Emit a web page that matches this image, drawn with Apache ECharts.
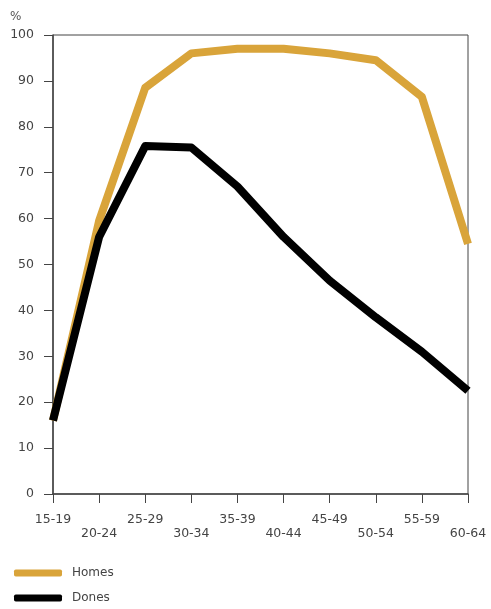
<!DOCTYPE html>
<html>
<head>
<meta charset="utf-8">
<script src="https://cdn.jsdelivr.net/npm/echarts@6/dist/echarts.min.js"></script>
<style>html,body{margin:0;padding:0;background:#fff;}#c{width:491px;height:609px;}</style>
</head>
<body>
<div id="c"></div>
<script>
const categories = ['15-19','20-24','25-29','30-34','35-39','40-44','45-49','50-54','55-59','60-64'];
const homes = [16, 59.5, 88.5, 96, 97, 97, 96, 94.5, 86.5, 54.5];
const dones = [16, 56, 75.8, 75.5, 67, 56, 46.5, 38.5, 31, 22.5];
const yTicks = [0,10,20,30,40,50,60,70,80,90,100];

const chart = echarts.init(document.getElementById('c'), null, {renderer:'canvas'});
const font = '"DejaVu Sans", sans-serif';
chart.setOption({
  backgroundColor:'#fff',
  animation:false,
  grid:{left:53,right:23,top:35,bottom:115,show:true,borderColor:'#444',borderWidth:1,backgroundColor:'transparent'},
  graphic:[{type:'text',left:10,top:11,style:{text:'%',fill:'#555',font:'12px '+font}}],
  legend:{
    orient:'vertical',left:14,top:567,padding:0,itemWidth:48,itemHeight:7,itemGap:13,icon:'roundRect',
    textStyle:{color:'#444',fontFamily:font,fontSize:12,lineHeight:12,padding:[0,0,0,5]},
    data:['Homes','Dones']
  },
  xAxis:{
    type:'category',data:categories,boundaryGap:false,
    axisLine:{lineStyle:{color:'#444',width:1.5}},
    axisTick:{show:true,length:9,alignWithLabel:true,lineStyle:{color:'#444'}},
    axisLabel:{interval:0,color:'#444',fontFamily:font,fontSize:12.5,margin:19,lineHeight:14,
      formatter:(v,i)=> (i%2===1?'\n':'')+v}
  },
  yAxis:{
    type:'value',min:0,max:100,interval:10,
    axisLine:{show:true,lineStyle:{color:'#444',width:1.5}},
    axisTick:{show:true,length:9,lineStyle:{color:'#444'}},
    splitLine:{show:false},
    axisLabel:{color:'#444',fontFamily:font,fontSize:12.5,margin:19,
      formatter:v=> yTicks.includes(v)? String(v):''}
  },
  series:[
    {name:'Homes',type:'line',data:homes,symbol:'none',color:'#D9A43A',
      lineStyle:{width:8,color:'#D9A43A',join:'round',cap:'butt'},z:2},
    {name:'Dones',type:'line',data:dones,symbol:'none',color:'#000',
      lineStyle:{width:8,color:'#000',join:'round',cap:'butt'},z:3}
  ]
});
</script>
</body>
</html>
